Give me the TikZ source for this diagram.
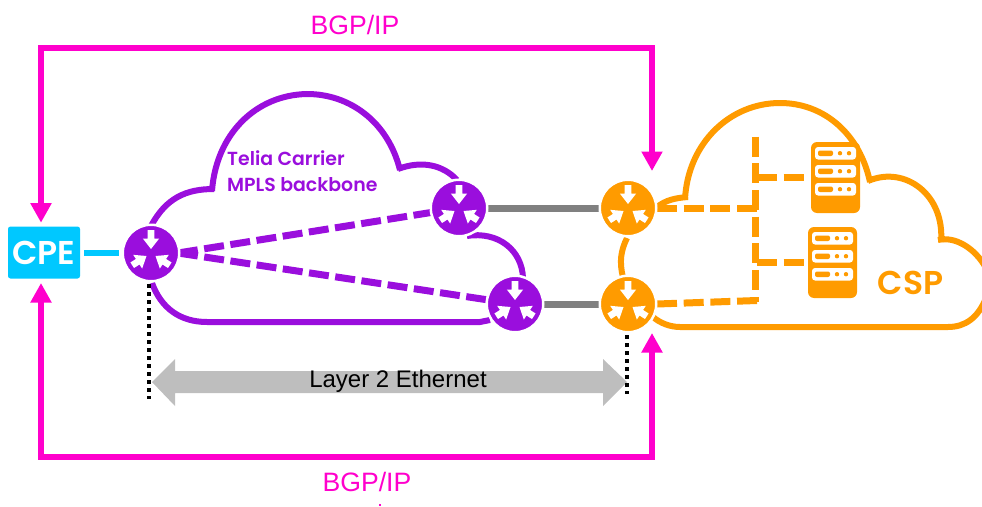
\documentclass[tikz,border=0pt]{standalone}
\usepackage{fontspec}
\setmainfont{Liberation Sans}
\newfontfamily\brandfont{Poppins Medium}
\newfontfamily\brandsemi{Poppins SemiBold}
\usetikzlibrary{arrows.meta}
\definecolor{pinkc}{HTML}{FF00CC}
\definecolor{purplec}{HTML}{9A0EDD}
\definecolor{orangec}{HTML}{FF9B00}
\definecolor{cyanc}{HTML}{00C8FF}
\definecolor{grayc}{HTML}{808080}
\definecolor{lgrayc}{HTML}{BEBEBE}
\tikzset{
  x=1pt,y=-1pt,
  pics/routerarrow/.style={code={\fill[white] (0,0) -- (8.2,-10.5) -- (3.3,-10.5) -- (3.3,-#1) -- (-3.3,-#1) -- (-3.3,-10.5) -- (-8.2,-10.5) -- cycle;}},
  router/.style={circle,fill=#1,draw=white,line width=2.5pt,minimum size=56.5pt,inner sep=0pt,
    path picture={
      \begin{scope}[shift={(path picture bounding box.center)}]
        \pic at (0,-4) {routerarrow=19};
        \pic[rotate=123] at (-4.5,3) {routerarrow=17};
        \pic[rotate=-123] at (4.5,3) {routerarrow=17};
      \end{scope}}},
  bgp/.style={draw=pinkc,line width=6pt,miter limit=10,{Triangle[length=19.5pt,width=20pt]}-{Triangle[length=19.5pt,width=20pt]}},
  cloudp/.style={draw=purplec,line width=6pt},
  cloudo/.style={draw=orangec,line width=6pt},
  dashp/.style={draw=purplec,line width=7pt,dash pattern=on 20pt off 6.5pt},
  dasho/.style={draw=orangec,line width=7pt,dash pattern=on 20pt off 6.7pt},
  grayline/.style={draw=grayc,line width=7pt},
  dots/.style={draw=black,line width=4pt,dash pattern=on 4pt off 4pt},
  bgptext/.style={text=pinkc,font=\fontsize{26.6}{30}\selectfont,inner sep=0pt},
  pics/server/.style={code={
    \fill[orangec,rounded corners=6pt] (0,0) rectangle (49,71);
    \foreach \yy in {5,23,41}{
      \fill[white,rounded corners=3pt] (4,\yy) rectangle (45,\yy+12.5);
      \fill[orangec,rounded corners=2pt] (7,\yy+3.5) rectangle (22,\yy+9);
      \fill[orangec] (29,\yy+6.2) circle (2.2pt);
      \fill[orangec] (38,\yy+6.2) circle (2.2pt);
    }}},
}
\begin{document}
\begin{tikzpicture}
\useasboundingbox (0,0) rectangle (982,506);
% clouds
\draw[cloudp] (151,226) .. controls (166,198) and (186,189) .. (214,189);
\draw[cloudp] (212,191) .. controls (216,135) and (255,95) .. (307,94)
   .. controls (350,94) and (388,122) .. (400,170);
\draw[cloudp] (398,169) .. controls (422,160) and (443,165) .. (457,180);
\draw[cloudp] (467,236) .. controls (498,231) and (522,250) .. (523,278);
\draw[cloudp] (152,283) .. controls (161,308) and (180,322) .. (207,322) -- (480,322) -- (490,320);
\draw[cloudo] (657,207) .. controls (666,200) and (675,198) .. (688,197);
\draw[cloudo] (685,199) .. controls (688,143) and (730,103) .. (780,103)
   .. controls (825,103) and (860,135) .. (870,182);
\draw[cloudo] (868,181) .. controls (905,165) and (945,195) .. (941,242);
\draw[cloudo] (938,240) .. controls (955,236) and (975,248) .. (986,268);
\draw[cloudo] (986,298) .. controls (978,318) and (965,327) .. (948,327) -- (680,327) .. controls (670,327) and (660,323) .. (653,317);
\draw[cloudo] (627,238) .. controls (621,250) and (619,262) .. (623,277);
% routers placeholders
\coordinate (r1c) at (151,253);
\coordinate (r2c) at (459,208);
\coordinate (r3c) at (515,304);
\coordinate (r4c) at (628,208);
\coordinate (r5c) at (628,304);
% layer 2 arrow
\coordinate (l2a) at (152,382);
\coordinate (l2b) at (627,382);
\fill[lgrayc] (l2a) -- (175,359) -- (175,371) -- (603,371) -- (603,359) -- (l2b) -- (603,406) -- (603,393) -- (175,393) -- (175,406) -- cycle;
\node[inner sep=0pt,font=\fontsize{24}{28}\selectfont,text=black] (l2) at (398,381) {Layer 2 Ethernet};
% connectors
\coordinate (d1) at (149,399);
\coordinate (d2) at (627,394);
\draw[dots] (149,284) -- (d1);
\draw[dots] (627,335) -- (d2);
\draw[dashp] (178,253) -- (r2c);
\draw[dashp] (178,253) -- (r3c);
\draw[grayline] (r2c) -- (r4c);
\draw[grayline] (r3c) -- (r5c);
\draw[dasho] (657,208) -- (757,208);
\draw[dasho] (657,304) -- (757,300.5);
\draw[dasho] (755,136.6) -- (755,302);
\draw[dasho] (757,177) -- (804,177);
\draw[dasho] (757,262) -- (804,262);
% servers
\pic at (811,142) {server};
\pic at (808,227) {server};
% routers
\node[router=purplec] (r1) at (r1c) {};
\node[router=purplec] (r2) at (r2c) {};
\node[router=purplec] (r3) at (r3c) {};
\node[router=orangec] (r4) at (r4c) {};
\node[router=orangec] (r5) at (r5c) {};
% cpe
\node[fill=cyanc,rounded corners=2.5pt,minimum width=72pt,minimum height=52pt,inner sep=0pt,text=white,font=\brandsemi\fontsize{33}{33}\selectfont] (cpe) at (44,252.5) {CPE};
\draw[draw=cyanc,line width=6.5pt] (84,253) -- (119,253);
% BGP
\coordinate (tl) at (41,48);
\coordinate (tr) at (652,48);
\coordinate (bl) at (41,457);
\coordinate (br) at (652,457);
\coordinate (cn) at (41,222.7);
\coordinate (cs) at (41,283);
\coordinate (rn) at (652,171);
\coordinate (rs) at (652,333);
\draw[bgp] (cn) -- (tl) -- (tr) -- (rn);
\draw[bgp] (cs) -- (bl) -- (br) -- (rs);
\node[bgptext] (t1) at (355,25) {BGP/IP};
\node[bgptext] (t2) at (367,482) {BGP/IP};
\fill[pinkc] (379,504) rectangle (381,506);
% labels
\node[anchor=north west,inner sep=0pt,align=left,text=purplec,font=\brandsemi\fontsize{18.9}{26}\selectfont] (tc) at (227,150) {Telia Carrier\\MPLS backbone};
\node[inner sep=0pt,text=orangec,font=\brandsemi\fontsize{33}{33}\selectfont] (csp) at (910.5,283) {CSP};
\end{tikzpicture}
\end{document}
